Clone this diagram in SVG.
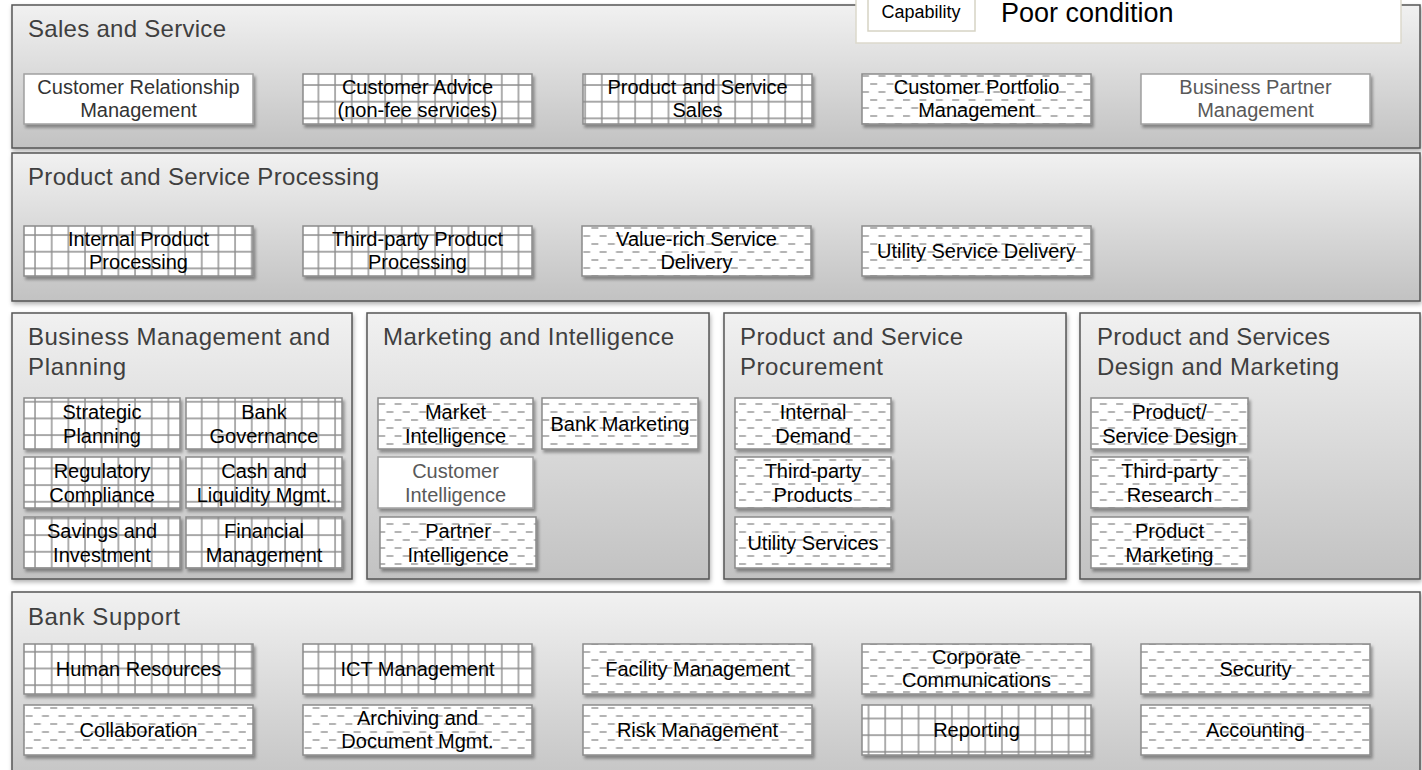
<svg xmlns="http://www.w3.org/2000/svg" width="1422" height="770" viewBox="0 0 1422 770">
  <defs>
    <linearGradient id="panelFill" x1="0" y1="0" x2="0" y2="1">
      <stop offset="0" stop-color="#f1f1f1"/>
      <stop offset="1" stop-color="#c2c2c2"/>
    </linearGradient>
    <!-- large grid fill -->
    <pattern id="grid" patternUnits="userSpaceOnUse" x="0.7" y="0.7" width="16.67" height="16.67">
      <rect width="16.67" height="16.67" fill="#ffffff"/>
      <path d="M0 1 H16.67 M1 0 V16.67" stroke="#8c8c8c" stroke-width="1.4" fill="none"/>
    </pattern>
    <!-- dashed horizontal fill -->
    <pattern id="dash" patternUnits="userSpaceOnUse" x="0" y="0" width="16.4" height="16">
      <rect width="16.4" height="16" fill="#ffffff"/>
      <path d="M1 4 H8 M9.2 12 H16.2" stroke="#9c9c9c" stroke-width="1.6" fill="none"/>
    </pattern>
    <filter id="boxShadow" x="-10%" y="-20%" width="130%" height="150%">
      <feDropShadow dx="2" dy="3" stdDeviation="1.6" flood-color="#000000" flood-opacity="0.35"/>
    </filter>
    <filter id="panelShadow" x="-5%" y="-5%" width="110%" height="115%">
      <feDropShadow dx="1" dy="2.5" stdDeviation="2" flood-color="#000000" flood-opacity="0.3"/>
    </filter>
  </defs>
  <style>
    .panel { fill: url(#panelFill); stroke: #555555; stroke-width: 1.5; filter: url(#panelShadow); }
    .title { font-family: "Liberation Sans", Arial, sans-serif; font-size: 24px; fill: #3f3f3f; }
    .box { stroke: #8a8a8a; stroke-width: 1.5; filter: url(#boxShadow); }
    .grid { fill: url(#grid); }
    .dash { fill: url(#dash); }
    .plain { fill: #ffffff; stroke: #a0a0a0; }
    .lbl { font-family: "Liberation Sans", Arial, sans-serif; font-size: 20px; fill: #000000; text-anchor: middle; }
    .soft { fill: #595959; }
    .dark { fill: #333333; }
  </style>

  <!-- panels -->
  <g id="panel-sales">
    <rect class="panel" x="12" y="5" width="1408" height="143"/>
    <text class="title" x="28" y="37" textLength="198" lengthAdjust="spacing">Sales and Service</text>
  </g>
  <g id="panel-processing">
    <rect class="panel" x="12" y="153" width="1408" height="148"/>
    <text class="title" x="28" y="185" textLength="351" lengthAdjust="spacing">Product and Service Processing</text>
  </g>
  <g id="panel-planning">
    <rect class="panel" x="12" y="313" width="340" height="266"/>
    <text class="title" x="28" y="345" textLength="302" lengthAdjust="spacing">Business Management and</text>
    <text class="title" x="28" y="375" textLength="98" lengthAdjust="spacing">Planning</text>
  </g>
  <g id="panel-marketing">
    <rect class="panel" x="367" y="313" width="342" height="266"/>
    <text class="title" x="383" y="345" textLength="291" lengthAdjust="spacing">Marketing and Intelligence</text>
  </g>
  <g id="panel-procurement">
    <rect class="panel" x="724" y="313" width="342" height="266"/>
    <text class="title" x="740" y="345" textLength="223" lengthAdjust="spacing">Product and Service</text>
    <text class="title" x="740" y="375" textLength="143" lengthAdjust="spacing">Procurement</text>
  </g>
  <g id="panel-design">
    <rect class="panel" x="1080" y="313" width="340" height="266"/>
    <text class="title" x="1097" y="345" textLength="233" lengthAdjust="spacing">Product and Services</text>
    <text class="title" x="1097" y="375" textLength="242" lengthAdjust="spacing">Design and Marketing</text>
  </g>
  <g id="panel-support">
    <rect class="panel" x="12" y="592" width="1408" height="200"/>
    <text class="title" x="28" y="625" textLength="152" lengthAdjust="spacing">Bank Support</text>
  </g>

  <!-- legend -->
  <g id="legend">
    <rect x="856" y="-4" width="545" height="47" fill="#ffffff" stroke="#dcd9cc" stroke-width="1.5"/>
    <rect x="868" y="-4" width="107" height="35" fill="#ffffff" stroke="#d6d3c4" stroke-width="1.5"/>
    <text x="921" y="18" font-family="Liberation Sans, Arial, sans-serif" font-size="18" fill="#000" text-anchor="middle">Capability</text>
    <text x="1001" y="22" font-family="Liberation Sans, Arial, sans-serif" font-size="27" fill="#000">Poor condition</text>
  </g>

  <!-- Sales and Service -->
  <g id="crm">
    <rect class="box plain" x="24" y="74" width="229" height="50"/>
    <text class="lbl dark" x="138.5" y="94">Customer Relationship</text>
    <text class="lbl dark" x="138.5" y="117">Management</text>
  </g>
  <g id="customer-advice">
    <rect class="box grid" x="303" y="74" width="229" height="50"/>
    <text class="lbl" x="417.5" y="94">Customer Advice</text>
    <text class="lbl" x="417.5" y="117">(non-fee services)</text>
  </g>
  <g id="product-service-sales">
    <rect class="box grid" x="583" y="74" width="229" height="50"/>
    <text class="lbl" x="697.5" y="94">Product and Service</text>
    <text class="lbl" x="697.5" y="117">Sales</text>
  </g>
  <g id="customer-portfolio">
    <rect class="box dash" x="862" y="74" width="229" height="50"/>
    <text class="lbl" x="976.5" y="94">Customer Portfolio</text>
    <text class="lbl" x="976.5" y="117">Management</text>
  </g>
  <g id="business-partner">
    <rect class="box plain" x="1141" y="74" width="229" height="50"/>
    <text class="lbl soft" x="1255.5" y="94">Business Partner</text>
    <text class="lbl soft" x="1255.5" y="117">Management</text>
  </g>

  <!-- Product and Service Processing -->
  <g id="internal-processing">
    <rect class="box grid" x="24" y="226" width="229" height="50"/>
    <text class="lbl" x="138.5" y="246">Internal Product</text>
    <text class="lbl" x="138.5" y="269">Processing</text>
  </g>
  <g id="third-party-processing">
    <rect class="box grid" x="303" y="226" width="229" height="50"/>
    <text class="lbl" x="417.5" y="246">Third-party Product</text>
    <text class="lbl" x="417.5" y="269">Processing</text>
  </g>
  <g id="value-rich-delivery">
    <rect class="box dash" x="582" y="226" width="229" height="50"/>
    <text class="lbl" x="696.5" y="246">Value-rich Service</text>
    <text class="lbl" x="696.5" y="269">Delivery</text>
  </g>
  <g id="utility-delivery">
    <rect class="box dash" x="862" y="226" width="229" height="50"/>
    <text class="lbl" x="976.5" y="258">Utility Service Delivery</text>
  </g>

  <!-- Business Management and Planning -->
  <g id="strategic-planning">
    <rect class="box grid" x="24" y="398" width="156" height="51"/>
    <text class="lbl" x="102" y="419">Strategic</text>
    <text class="lbl" x="102" y="443">Planning</text>
  </g>
  <g id="bank-governance">
    <rect class="box grid" x="186" y="398" width="156" height="51"/>
    <text class="lbl" x="264" y="419">Bank</text>
    <text class="lbl" x="264" y="443">Governance</text>
  </g>
  <g id="regulatory-compliance">
    <rect class="box grid" x="24" y="457" width="156" height="51"/>
    <text class="lbl" x="102" y="478">Regulatory</text>
    <text class="lbl" x="102" y="502">Compliance</text>
  </g>
  <g id="cash-liquidity">
    <rect class="box grid" x="186" y="457" width="156" height="51"/>
    <text class="lbl" x="264" y="478">Cash and</text>
    <text class="lbl" x="264" y="502">Liquidity Mgmt.</text>
  </g>
  <g id="savings-investment">
    <rect class="box grid" x="24" y="517" width="156" height="51"/>
    <text class="lbl" x="102" y="538">Savings and</text>
    <text class="lbl" x="102" y="562">Investment</text>
  </g>
  <g id="financial-management">
    <rect class="box grid" x="186" y="517" width="156" height="51"/>
    <text class="lbl" x="264" y="538">Financial</text>
    <text class="lbl" x="264" y="562">Management</text>
  </g>

  <!-- Marketing and Intelligence -->
  <g id="market-intelligence">
    <rect class="box dash" x="378" y="398" width="155" height="51"/>
    <text class="lbl" x="455.5" y="419">Market</text>
    <text class="lbl" x="455.5" y="443">Intelligence</text>
  </g>
  <g id="bank-marketing">
    <rect class="box dash" x="542" y="398" width="156" height="51"/>
    <text class="lbl" x="620" y="431">Bank Marketing</text>
  </g>
  <g id="customer-intelligence">
    <rect class="box plain" x="378" y="457" width="155" height="51"/>
    <text class="lbl soft" x="455.5" y="478">Customer</text>
    <text class="lbl soft" x="455.5" y="502">Intelligence</text>
  </g>
  <g id="partner-intelligence">
    <rect class="box dash" x="380" y="517" width="156" height="51"/>
    <text class="lbl" x="458" y="538">Partner</text>
    <text class="lbl" x="458" y="562">Intelligence</text>
  </g>

  <!-- Product and Service Procurement -->
  <g id="internal-demand">
    <rect class="box dash" x="735" y="398" width="156" height="51"/>
    <text class="lbl" x="813" y="419">Internal</text>
    <text class="lbl" x="813" y="443">Demand</text>
  </g>
  <g id="third-party-products">
    <rect class="box dash" x="735" y="457" width="156" height="51"/>
    <text class="lbl" x="813" y="478">Third-party</text>
    <text class="lbl" x="813" y="502">Products</text>
  </g>
  <g id="utility-services">
    <rect class="box dash" x="735" y="517" width="156" height="51"/>
    <text class="lbl" x="813" y="550">Utility Services</text>
  </g>

  <!-- Product and Services Design and Marketing -->
  <g id="service-design">
    <rect class="box dash" x="1091" y="398" width="157" height="51"/>
    <text class="lbl" x="1169.5" y="419">Product/</text>
    <text class="lbl" x="1169.5" y="443">Service Design</text>
  </g>
  <g id="third-party-research">
    <rect class="box dash" x="1091" y="457" width="157" height="51"/>
    <text class="lbl" x="1169.5" y="478">Third-party</text>
    <text class="lbl" x="1169.5" y="502">Research</text>
  </g>
  <g id="product-marketing">
    <rect class="box dash" x="1091" y="517" width="157" height="51"/>
    <text class="lbl" x="1169.5" y="538">Product</text>
    <text class="lbl" x="1169.5" y="562">Marketing</text>
  </g>

  <!-- Bank Support -->
  <g id="human-resources">
    <rect class="box grid" x="24" y="644" width="229" height="50"/>
    <text class="lbl" x="138.5" y="676">Human Resources</text>
  </g>
  <g id="ict-management">
    <rect class="box grid" x="303" y="644" width="229" height="50"/>
    <text class="lbl" x="417.5" y="676">ICT Management</text>
  </g>
  <g id="facility-management">
    <rect class="box dash" x="583" y="644" width="229" height="50"/>
    <text class="lbl" x="697.5" y="676">Facility Management</text>
  </g>
  <g id="corporate-communications">
    <rect class="box dash" x="862" y="644" width="229" height="50"/>
    <text class="lbl" x="976.5" y="664">Corporate</text>
    <text class="lbl" x="976.5" y="687">Communications</text>
  </g>
  <g id="security">
    <rect class="box dash" x="1141" y="644" width="229" height="50"/>
    <text class="lbl" x="1255.5" y="676">Security</text>
  </g>
  <g id="collaboration">
    <rect class="box dash" x="24" y="705" width="229" height="50"/>
    <text class="lbl" x="138.5" y="737">Collaboration</text>
  </g>
  <g id="archiving">
    <rect class="box dash" x="303" y="705" width="229" height="50"/>
    <text class="lbl" x="417.5" y="725">Archiving and</text>
    <text class="lbl" x="417.5" y="748">Document Mgmt.</text>
  </g>
  <g id="risk-management">
    <rect class="box dash" x="583" y="705" width="229" height="50"/>
    <text class="lbl" x="697.5" y="737">Risk Management</text>
  </g>
  <g id="reporting">
    <rect class="box grid" x="862" y="705" width="229" height="50"/>
    <text class="lbl" x="976.5" y="737">Reporting</text>
  </g>
  <g id="accounting">
    <rect class="box dash" x="1141" y="705" width="229" height="50"/>
    <text class="lbl" x="1255.5" y="737">Accounting</text>
  </g>

  <!-- no connectors in this map -->
  <g id="connectors"/>
</svg>
